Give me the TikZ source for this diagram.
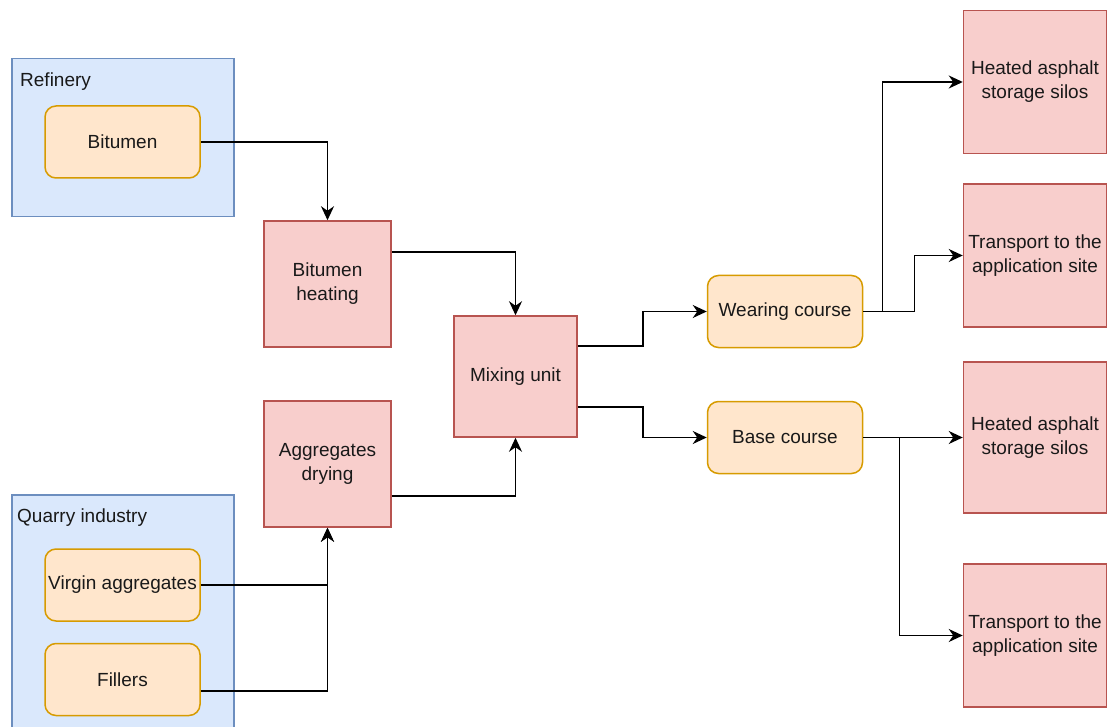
\documentclass[tikz,border=0pt]{standalone}
\usepackage{fontspec}
\setmainfont{Liberation Sans}
\usetikzlibrary{arrows.meta,calc}
\definecolor{bluefill}{HTML}{DAE8FC}
\definecolor{bluedraw}{HTML}{6C8EBF}
\definecolor{orangefill}{HTML}{FFE6CC}
\definecolor{orangedraw}{HTML}{D79B00}
\definecolor{redfill}{HTML}{F8CECC}
\definecolor{reddraw}{HTML}{B85450}
\begin{document}
\begin{tikzpicture}[x=1pt,y=-1pt,
  txt/.style={font=\fontsize{19}{24}\selectfont, text=black!90},
  group/.style={draw=bluedraw, fill=bluefill, line width=1.5pt, inner sep=0pt},
  item/.style={txt, draw=orangedraw, fill=orangefill, rounded corners=11pt, line width=1.5pt, minimum width=155pt, minimum height=72pt, inner sep=0pt, align=center},
  proc/.style={txt, draw=reddraw, fill=redfill, line width=1.5pt, inner sep=0pt, align=center},
  flow/.style={line width=1.5pt, -{Stealth[length=14pt,width=13pt,inset=4.5pt]}}]
\useasboundingbox (0,0) rectangle (1108,727);
\begin{scope}
\clip (0,0) rectangle (1108,727);
\node[group, minimum width=222pt, minimum height=158pt, anchor=north west] (ref) at (11,58) {};
\node[txt, anchor=west, inner sep=0pt] (reflab) at (20,81.5) {Refinery};
\node[group, minimum width=222pt, minimum height=250pt, anchor=north west] (quarry) at (11,494) {};
\node[txt, anchor=west, inner sep=0pt] (quarrylab) at (17,517.5) {Quarry industry};

\node[item] (bit) at (122.5,142) {Bitumen};
\node[item] (va) at (122.5,585) {Virgin aggregates};
\node[item] (fil) at (122.5,679.5) {Fillers};
\node[proc, minimum width=127pt, minimum height=126pt] (heat) at (327.5,284) {Bitumen\\heating};
\node[proc, minimum width=127pt, minimum height=126pt] (dry) at (327.5,464) {Aggregates\\drying};
\node[proc, minimum width=123pt, minimum height=121pt] (mix) at (515.5,376.5) {Mixing unit};
\node[item] (wear) at (785,311.5) {Wearing course};
\node[item] (base) at (785,437.5) {Base course};
\node[proc, minimum width=143pt, minimum height=143pt] (silo1) at (1035,82) {Heated asphalt\\storage silos};
\node[proc, minimum width=143pt, minimum height=143pt] (trans1) at (1035,255.5) {Transport to the\\application site};
\node[proc, minimum width=143pt, minimum height=151pt] (silo2) at (1035,437.5) {Heated asphalt\\storage silos};
\node[proc, minimum width=143pt, minimum height=143pt] (trans2) at (1035,635.5) {Transport to the\\application site};

\draw[flow] (bit.east) -| (heat.north);
\draw[flow] ($(heat.north east)!0.25!(heat.south east)$) -| (mix.north);
\draw[flow] ($(dry.north east)!0.75!(dry.south east)$) -| (mix.south);
\draw[flow] (va.east) -| (dry.south);
\draw[flow] ([yshift=-11.5pt]fil.east) -| (dry.south);
\draw[flow] ($(mix.north east)!0.25!(mix.south east)$) -- ++(65,0) |- (wear.west);
\draw[flow] ($(mix.north east)!0.75!(mix.south east)$) -- ++(65,0) |- (base.west);
\draw[flow] (wear.east) -- ++(19,0) |- (silo1.west);
\draw[flow] (wear.east) -- ++(51,0) |- (trans1.west);
\draw[flow] (base.east) -- (silo2.west);
\draw[flow] (base.east) -- ++(36,0) |- (trans2.west);
\end{scope}
\end{tikzpicture}
\end{document}
